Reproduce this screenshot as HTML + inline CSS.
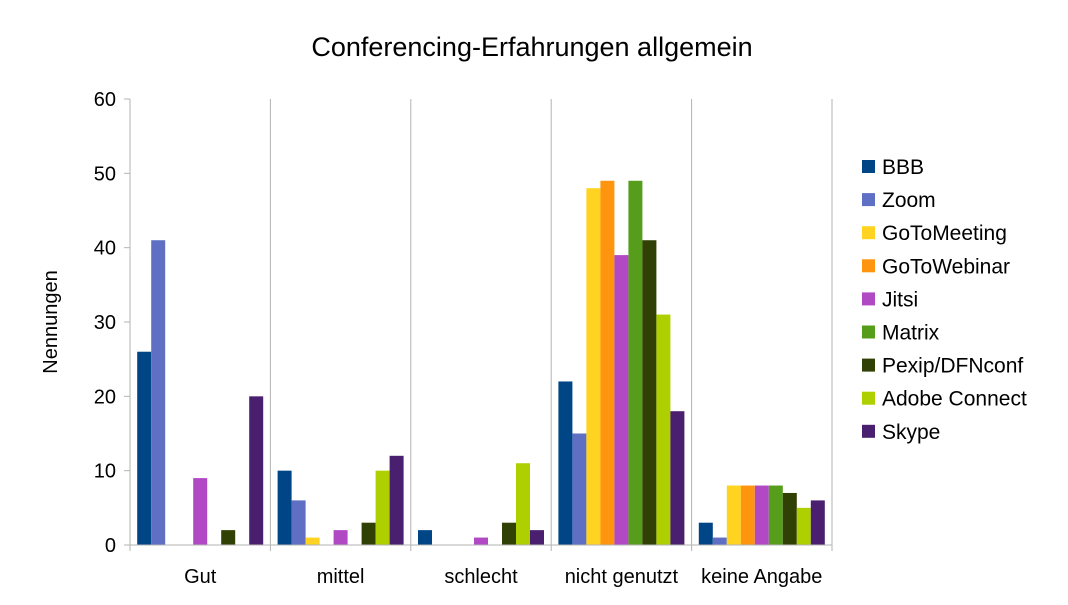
<!DOCTYPE html>
<html><head><meta charset="utf-8"><style>
body{margin:0;background:#fff;font-family:"Liberation Sans",sans-serif}
svg text{font-family:"Liberation Sans",sans-serif;fill:#000}
</style></head><body>
<svg id="c" width="1068" height="600" xmlns="http://www.w3.org/2000/svg">
<text x="532" y="56" font-size="27" text-anchor="middle">Conferencing-Erfahrungen allgemein</text>
<text transform="translate(57,322) rotate(-90)" font-size="20" text-anchor="middle">Nennungen</text>
<g id="grid"></g><g id="bars"></g><g id="axes"></g><g id="legend"></g>
</svg>
<script>
const categories=["Gut","mittel","schlecht","nicht genutzt","keine Angabe"];
const seriesNames=["BBB","Zoom","GoToMeeting","GoToWebinar","Jitsi","Matrix","Pexip/DFNconf","Adobe Connect","Skype"];
const colors=["#004586","#5e6fc4","#ffd320","#ff950e","#b149c4","#579d1c","#314004","#aecf00","#4b1f6f"];
const sBBB=[26,10,2,22,3];
const sZoom=[41,6,0,15,1];
const sGoToMeeting=[0,1,0,48,8];
const sGoToWebinar=[0,0,0,49,8];
const sJitsi=[9,2,1,39,8];
const sMatrix=[0,0,0,49,8];
const sPexip=[2,3,3,41,7];
const sAdobe=[0,10,11,31,5];
const sSkype=[20,12,2,18,6];
const yTicks=[0,10,20,30,40,50,60];
const series=[sBBB,sZoom,sGoToMeeting,sGoToWebinar,sJitsi,sMatrix,sPexip,sAdobe,sSkype];
const NS="http://www.w3.org/2000/svg";
const X0=130,X1=832,Y0=545,Y1=99,YMAX=60;
const cw=(X1-X0)/categories.length;
const y=v=>Y0-(v/YMAX)*(Y0-Y1);
const bw=14,pad=(cw-bw*seriesNames.length)/2;
function mk(tag,attrs,parent){const e=document.createElementNS(NS,tag);for(const k in attrs)e.setAttribute(k,attrs[k]);parent.appendChild(e);return e;}
const grid=document.getElementById('grid'),bars=document.getElementById('bars'),axes=document.getElementById('axes'),leg=document.getElementById('legend');
for(let i=1;i<categories.length;i++){const l=mk('line',{x1:X0+i*cw,x2:X0+i*cw,y1:Y1,y2:Y0,stroke:'#b3b3b3','stroke-width':1},grid);

}
categories.forEach((c,ci)=>{series.forEach((s,si)=>{const v=s[ci];const r=mk('rect',{x:X0+ci*cw+pad+si*bw,y:y(v),width:bw,height:Y0-y(v),fill:colors[si]},bars);

});
const t=mk('text',{x:X0+ci*cw+cw/2,y:583,'font-size':20,'text-anchor':'middle'},axes);t.textContent=c;


const tk=mk('line',{x1:X0+ci*cw,x2:X0+ci*cw,y1:Y0,y2:Y0+6,stroke:'#b3b3b3'},axes);

});
const tkl=mk('line',{x1:X1,x2:X1,y1:Y0,y2:Y0+6,stroke:'#b3b3b3'},axes);


const ax=mk('line',{x1:X0,x2:X0,y1:Y1,y2:Y0,stroke:'#b3b3b3'},axes);


const ax2=mk('line',{x1:X1,x2:X1,y1:Y1,y2:Y0,stroke:'#b3b3b3'},axes);


const xa=mk('line',{x1:X0,x2:X1,y1:Y0,y2:Y0,stroke:'#b3b3b3'},axes);


yTicks.forEach(v=>{const t=mk('text',{x:116,y:y(v)+7,'font-size':20,'text-anchor':'end'},axes);t.textContent=v;


const l=mk('line',{x1:X0-6,x2:X0,y1:y(v),y2:y(v),stroke:'#b3b3b3'},axes);

});
seriesNames.forEach((n,i)=>{const g=mk('g',{},leg);


const yy=166+i*33.1;mk('rect',{x:862,y:yy-6,width:13,height:13,fill:colors[i]},g);
const t=mk('text',{x:882,y:yy+8,'font-size':21},g);t.textContent=n;});
</script>
</body></html>
